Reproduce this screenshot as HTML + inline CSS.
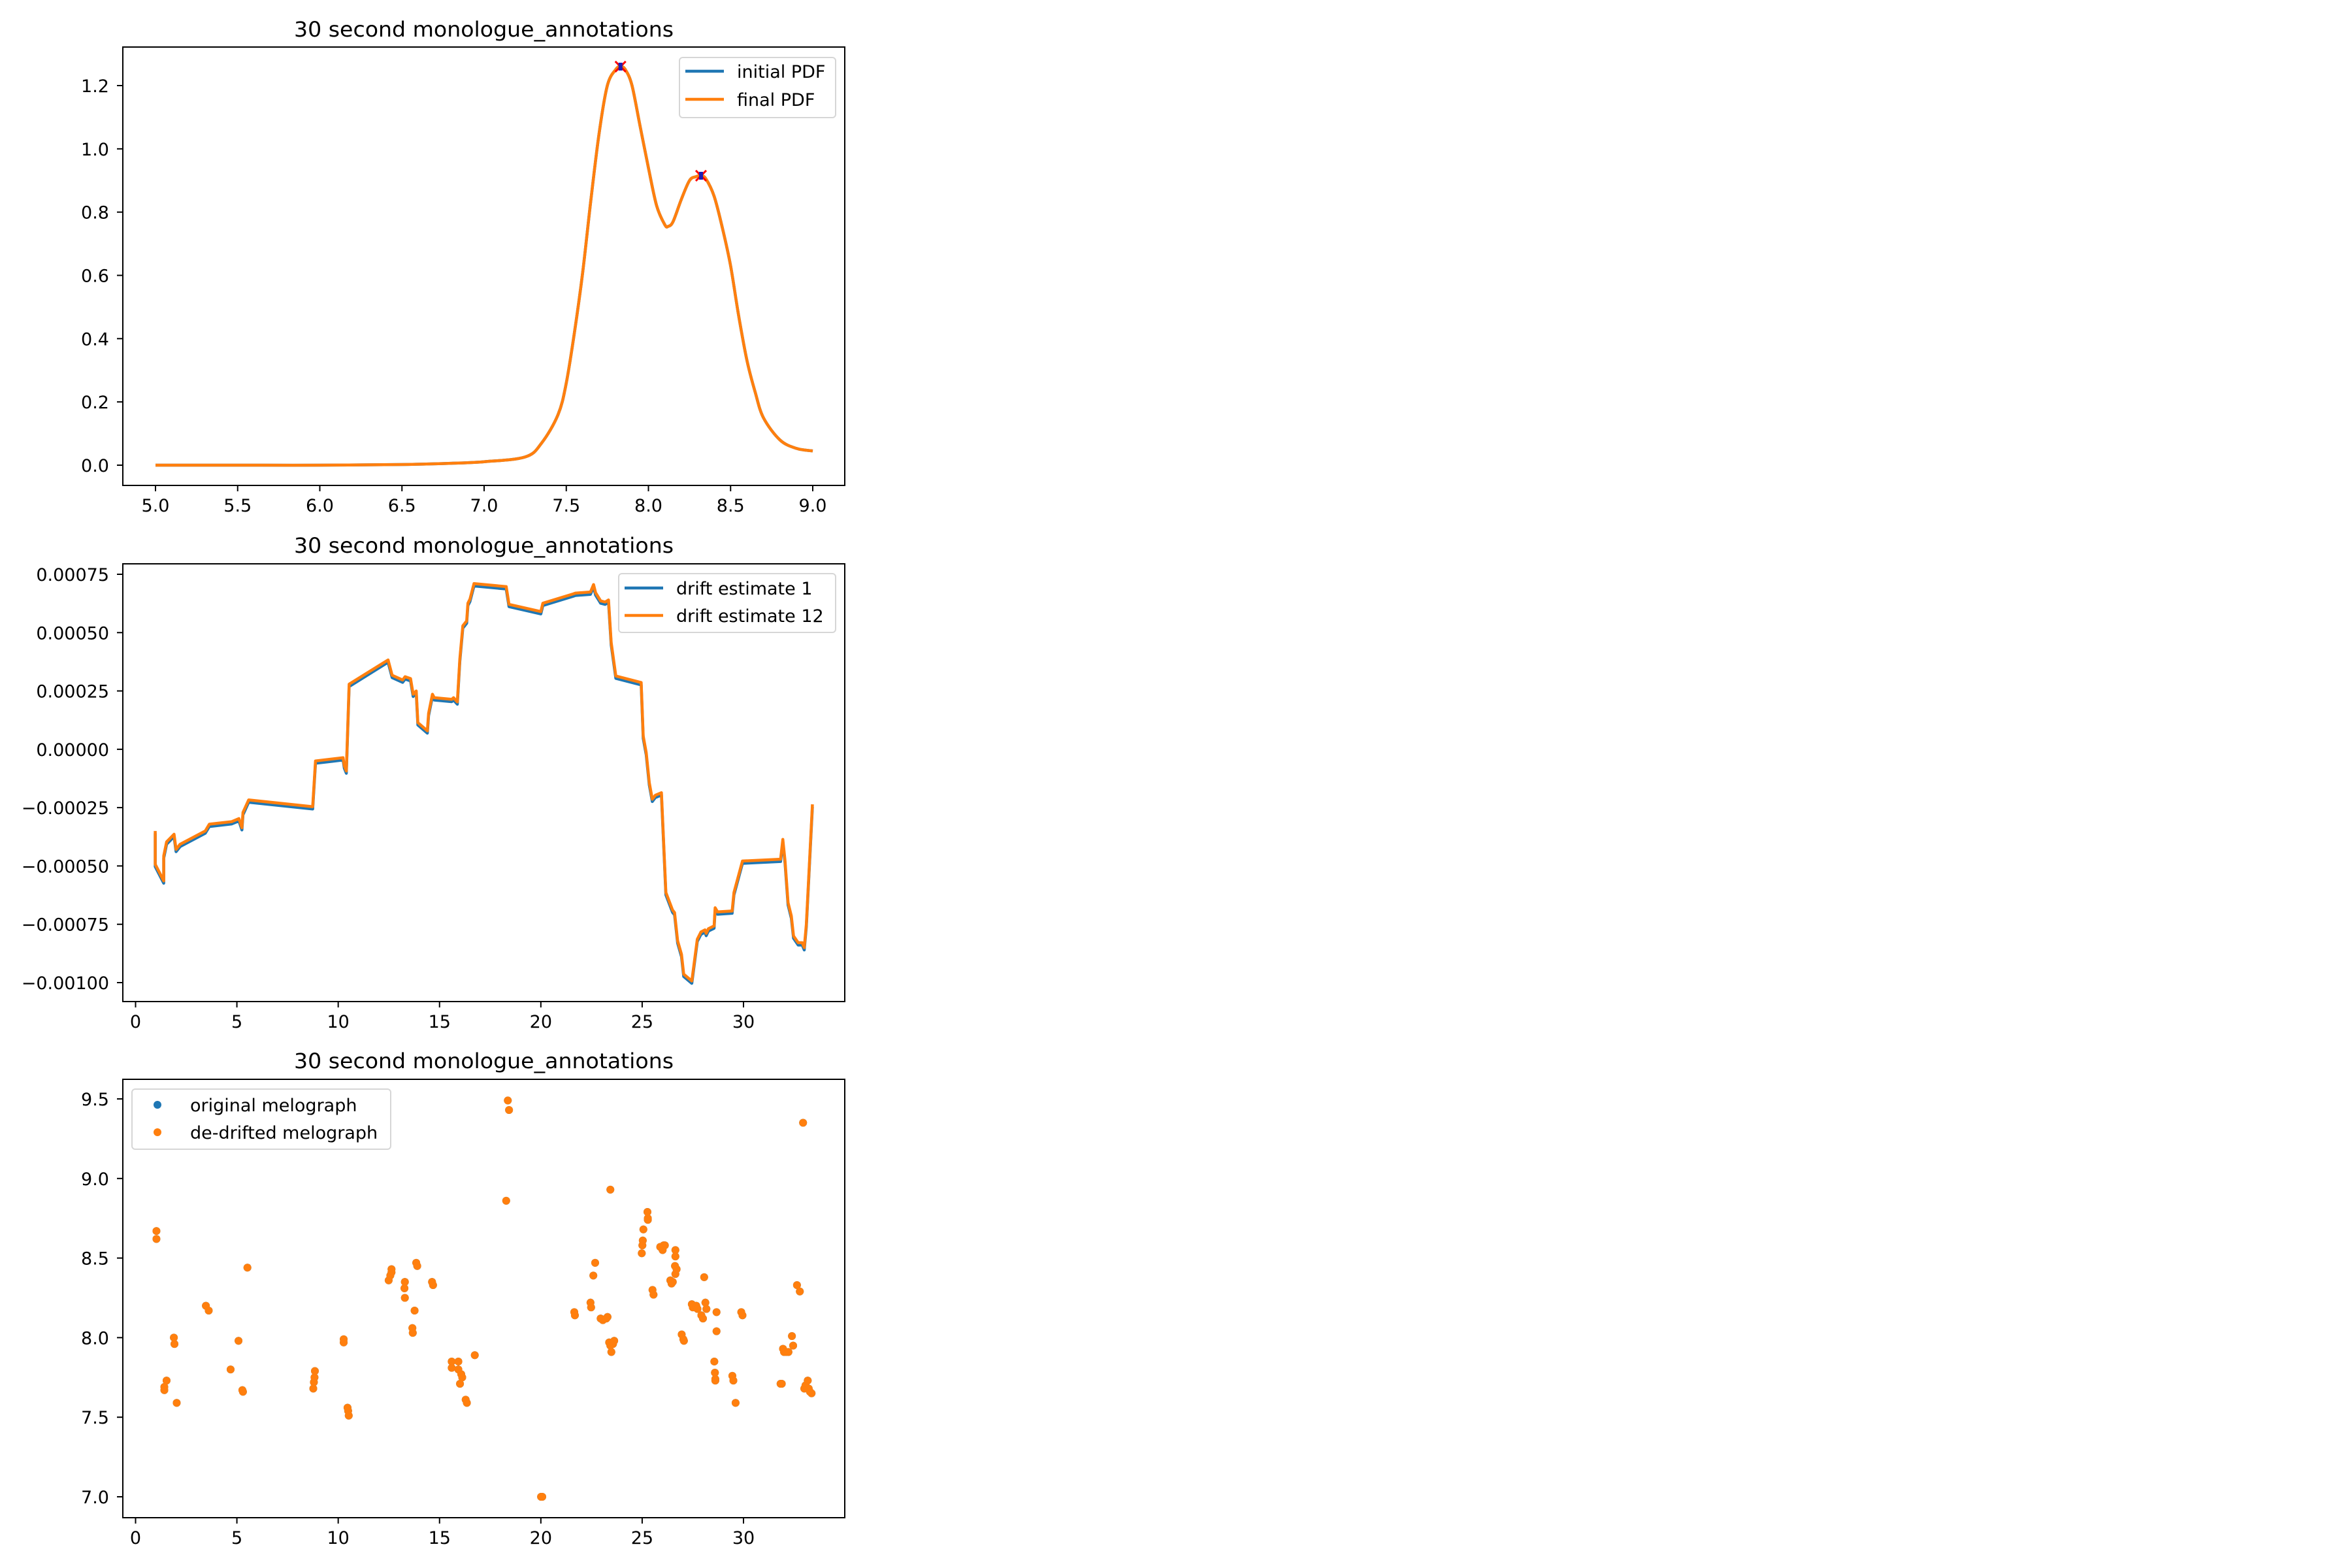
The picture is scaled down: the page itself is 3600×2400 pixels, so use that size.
<!DOCTYPE html>
<html><head><meta charset="utf-8"><style>
html,body{margin:0;padding:0;background:#fff;}
svg{display:block;font-family:"DejaVu Sans","Liberation Sans",sans-serif;}
</style></head><body>
<svg id="fig" width="3600" height="2400" viewBox="0 0 3600 2400" xmlns="http://www.w3.org/2000/svg">
<rect width="3600" height="2400" fill="#fff"/>
</svg>
<script>
// ---- Panel 1: PDF ----
const pdfX = [5.0,5.5,6.0,6.5,6.8,7.0,7.25,7.35,7.45,7.5,7.55,7.6,7.65,7.7,7.75,7.8,7.83,7.86,7.9,7.95,8.0,8.05,8.1,8.12,8.15,8.2,8.25,8.29,8.32,8.35,8.4,8.45,8.5,8.55,8.6,8.65,8.7,8.8,8.9,9.0];
const pdfY = [0.0,0.0,0.0,0.002,0.006,0.011,0.026,0.07,0.16,0.26,0.42,0.61,0.84,1.05,1.2,1.25,1.26,1.25,1.2,1.07,0.94,0.82,0.76,0.755,0.77,0.84,0.9,0.912,0.915,0.905,0.85,0.75,0.63,0.47,0.33,0.23,0.15,0.08,0.053,0.045];
const peakX = [7.83,8.32];
const peakY = [1.26,0.915];
const pdfXTicks = [5.0,5.5,6.0,6.5,7.0,7.5,8.0,8.5,9.0];
const pdfYTicks = [0.0,0.2,0.4,0.6,0.8,1.0,1.2];

// ---- Panel 2: drift ----
const driftT = [0.97,0.97,1.39,1.39,1.53,1.9,2.0,2.2,3.44,3.64,4.75,5.1,5.25,5.3,5.58,8.74,8.88,10.24,10.3,10.4,10.54,12.46,12.66,13.18,13.3,13.57,13.7,13.85,13.93,14.4,14.46,14.65,14.74,15.6,15.69,15.88,16.0,16.15,16.34,16.4,16.5,16.7,18.29,18.43,20.0,20.1,21.6,21.7,22.45,22.6,22.7,22.9,22.95,23.17,23.34,23.47,23.7,24.95,25.05,25.2,25.35,25.5,25.65,25.95,26.17,26.5,26.6,26.75,26.94,27.05,27.45,27.72,27.9,28.1,28.16,28.27,28.55,28.6,28.72,29.44,29.53,29.95,31.83,31.94,32.05,32.2,32.36,32.47,32.7,32.9,33.0,33.1,33.4];
const drift12 = [-3.5,-4.93,-5.64,-4.57,-3.97,-3.64,-4.29,-4.07,-3.5,-3.21,-3.1,-2.97,-3.36,-2.71,-2.17,-2.46,-0.5,-0.36,-0.71,-0.93,2.79,3.83,3.17,2.97,3.11,3.03,2.36,2.5,1.14,0.79,1.54,2.36,2.21,2.14,2.21,2.03,3.86,5.29,5.5,6.26,6.43,7.1,6.97,6.21,5.9,6.26,6.66,6.69,6.74,7.06,6.71,6.43,6.36,6.31,6.4,4.57,3.14,2.86,0.57,-0.14,-1.43,-2.14,-1.97,-1.86,-6.14,-6.89,-7.0,-8.21,-8.79,-9.64,-9.93,-8.14,-7.83,-7.74,-7.89,-7.69,-7.57,-6.79,-6.97,-6.93,-6.14,-4.79,-4.71,-3.86,-4.79,-6.57,-7.14,-8.0,-8.29,-8.29,-8.5,-7.5,-2.36];
const drift1 = [-3.6,-5.03,-5.74,-4.67,-4.07,-3.74,-4.39,-4.17,-3.6,-3.31,-3.2,-3.07,-3.46,-2.81,-2.27,-2.56,-0.6,-0.46,-0.81,-1.03,2.69,3.73,3.07,2.87,3.01,2.93,2.26,2.4,1.04,0.69,1.44,2.26,2.11,2.04,2.11,1.93,3.76,5.19,5.4,6.16,6.33,7.0,6.87,6.11,5.8,6.16,6.56,6.59,6.64,6.96,6.61,6.33,6.26,6.21,6.3,4.47,3.04,2.76,0.47,-0.24,-1.53,-2.24,-2.07,-1.96,-6.24,-6.99,-7.1,-8.31,-8.89,-9.74,-10.03,-8.24,-7.93,-7.84,-7.99,-7.79,-7.67,-6.89,-7.07,-7.03,-6.24,-4.89,-4.81,-3.96,-4.89,-6.67,-7.24,-8.1,-8.39,-8.39,-8.6,-7.6,-2.46];
const driftYTicks = [0.00075,0.0005,0.00025,0,-0.00025,-0.0005,-0.00075,-0.001];
const driftYLabels = ["0.00075","0.00050","0.00025","0.00000","\u22120.00025","\u22120.00050","\u22120.00075","\u22120.00100"];
const timeTicks = [0,5,10,15,20,25,30];

// ---- Panel 3: melograph ----
const melT = [1.03,1.03,1.42,1.42,1.53,1.89,1.92,2.03,3.47,3.61,4.69,5.08,5.27,5.30,5.52,8.77,8.80,8.83,8.85,10.27,10.27,10.46,10.49,10.52,12.49,12.57,12.63,12.63,13.27,13.29,13.29,13.77,13.66,13.68,13.85,13.90,14.63,14.68,15.60,15.60,15.93,15.93,16.01,16.07,16.12,16.29,16.35,16.74,18.29,18.37,18.43,20.01,20.07,21.65,21.68,22.45,22.48,22.59,22.68,22.95,23.06,23.23,23.29,23.37,23.43,23.48,23.56,23.62,23.43,24.98,25.01,25.03,25.06,25.26,25.28,25.28,25.51,25.56,25.89,26.01,26.06,26.12,26.39,26.45,26.51,26.62,26.64,26.64,26.64,26.70,26.95,27.03,27.06,27.45,27.50,27.67,27.73,27.92,28.00,28.06,28.12,28.17,28.56,28.59,28.61,28.61,28.67,28.67,29.45,29.50,29.61,29.89,29.95,31.83,31.89,31.95,32.00,32.11,32.22,32.39,32.45,32.64,32.78,32.94,33.00,33.06,33.17,33.22,33.28,33.36];
const melF = [8.67,8.62,7.69,7.67,7.73,8.00,7.96,7.59,8.20,8.17,7.80,7.98,7.67,7.66,8.44,7.68,7.72,7.75,7.79,7.99,7.97,7.56,7.54,7.51,8.36,8.39,8.43,8.41,8.31,8.35,8.25,8.17,8.06,8.03,8.47,8.45,8.35,8.33,7.85,7.81,7.85,7.80,7.71,7.77,7.75,7.61,7.59,7.89,8.86,9.49,9.43,7.00,7.00,8.16,8.14,8.22,8.19,8.39,8.47,8.12,8.11,8.12,8.13,7.97,7.95,7.91,7.96,7.98,8.93,8.53,8.58,8.61,8.68,8.79,8.75,8.74,8.30,8.27,8.57,8.55,8.58,8.58,8.36,8.34,8.35,8.45,8.51,8.55,8.40,8.43,8.02,7.99,7.98,8.21,8.19,8.20,8.18,8.14,8.12,8.38,8.22,8.18,7.85,7.78,7.74,7.73,8.04,8.16,7.76,7.73,7.59,8.16,8.14,7.71,7.71,7.93,7.91,7.91,7.91,8.01,7.95,8.33,8.29,9.35,7.68,7.70,7.73,7.68,7.66,7.65];
const melYTicks = [7.0,7.5,8.0,8.5,9.0,9.5];

const NS = "http://www.w3.org/2000/svg";
const fig = document.getElementById('fig');
function mk(tag, attrs, parent) {
  const e = document.createElementNS(NS, tag);
  for (const k in attrs) e.setAttribute(k, attrs[k]);
  (parent || fig).appendChild(e);
  return e;
}
function scale(d0, d1, p0, p1) { return v => p0 + (v - d0) * (p1 - p0) / (d1 - d0); }

function axes(cfg) {
  const g = mk('g', {});
  
  
  const t = mk('text', {x: (cfg.L + cfg.R) / 2, y: cfg.titleY, 'font-size': 32, 'text-anchor': 'middle', textLength: 581, lengthAdjust: 'spacingAndGlyphs'}, g);
  t.textContent = '30 second monologue_annotations';
  
  
  cfg.xt.forEach((v, i) => {
    const x = cfg.sx(v);
    mk('line', {x1: x, x2: x, y1: cfg.B, y2: cfg.B + 9, stroke: '#000', 'stroke-width': 2}, g);
    const lb = mk('text', {x: x, y: cfg.B + 40, 'font-size': 27, 'text-anchor': 'middle'}, g);
    lb.textContent = cfg.xl[i];
    
    
  });
  cfg.yt.forEach((v, i) => {
    const y = cfg.sy(v);
    mk('line', {x1: cfg.L - 9, x2: cfg.L, y1: y, y2: y, stroke: '#000', 'stroke-width': 2}, g);
    const lb = mk('text', {x: cfg.L - 21, y: y + 10, 'font-size': 27, 'text-anchor': 'end'}, g);
    lb.textContent = cfg.yl[i];
    
    
  });
  return g;
}
function frame(cfg) {
  const r = mk('rect', {x: cfg.L, y: cfg.T, width: cfg.R - cfg.L, height: cfg.B - cfg.T, fill: 'none', stroke: '#000', 'stroke-width': 2});
  
  
}
function legendBox(x, y, w, h) {
  const r = mk('rect', {x: x, y: y, width: w, height: h, rx: 5, fill: '#fff', 'fill-opacity': 0.8, stroke: '#d6d6d6', 'stroke-width': 2});
  
  
}
function legendEntry(lx, ly, tx, label, color, kind) {
  const g = mk('g', {});
  
  
  if (kind === 'line') mk('line', {x1: lx, x2: lx + 59, y1: ly, y2: ly, stroke: color, 'stroke-width': 4.5}, g);
  else mk('circle', {cx: lx, cy: ly, r: 6, fill: color}, g);
  const t = mk('text', {x: tx, y: ly + 10, 'font-size': 27}, g);
  t.textContent = label;
}
function pathD(xs, ys, sx, sy) { return xs.map((v, i) => (i ? 'L' : 'M') + sx(v).toFixed(1) + ',' + sy(ys[i]).toFixed(1)).join(''); }
function smoothD(xs, ys, sx, sy) {
  const P = xs.map((v, i) => [sx(v), sy(ys[i])]);
  let d = 'M' + P[0][0].toFixed(1) + ',' + P[0][1].toFixed(1);
  for (let i = 0; i < P.length - 1; i++) {
    const p0 = P[Math.max(0, i - 1)], p1 = P[i], p2 = P[i + 1], p3 = P[Math.min(P.length - 1, i + 2)];
    const c1 = [p1[0] + (p2[0] - p0[0]) / 6, p1[1] + (p2[1] - p0[1]) / 6];
    const c2 = [p2[0] - (p3[0] - p1[0]) / 6, p2[1] - (p3[1] - p1[1]) / 6];
    d += 'C' + c1.map(n => n.toFixed(1)).join(',') + ' ' + c2.map(n => n.toFixed(1)).join(',') + ' ' + p2[0].toFixed(1) + ',' + p2[1].toFixed(1);
  }
  return d;
}

// Panel 1
(function () {
  const c = {name: 'pdf-panel', L: 188, R: 1293, T: 72, B: 743, titleY: 56};
  c.sx = scale(5, 9, 238, 1244); c.sy = scale(0, 1.2, 712, 131);
  c.xt = pdfXTicks; c.xl = pdfXTicks.map(v => v.toFixed(1));
  c.yt = pdfYTicks; c.yl = pdfYTicks.map(v => v.toFixed(1));
  axes(c);
  const p1 = mk('path', {d: smoothD(pdfX, pdfY, c.sx, c.sy), fill: 'none', stroke: '#1f77b4', 'stroke-width': 4.5, 'stroke-linejoin': 'round'});
  
  
  const p2 = mk('path', {d: smoothD(pdfX, pdfY, c.sx, c.sy), fill: 'none', stroke: '#ff7f0e', 'stroke-width': 4.5, 'stroke-linejoin': 'round'});
  
  
  peakX.forEach((v, i) => {
    const x = c.sx(v), y = c.sy(peakY[i]);
    const g = mk('g', {});
    
    
    mk('path', {d: `M${x-8},${y-8}L${x+8},${y+8}M${x-8},${y+8}L${x+8},${y-8}`, stroke: '#ff0000', 'stroke-width': 3}, g);
    mk('rect', {x: x - 3, y: y - 6, width: 6, height: 12, fill: '#1f1fb4'}, g);
  });
  frame(c);
  legendBox(1040, 88, 239, 92);
  legendEntry(1049, 109, 1128, 'initial PDF', '#1f77b4', 'line');
  legendEntry(1049, 152, 1128, 'final PDF', '#ff7f0e', 'line');
})();

// Panel 2
(function () {
  const c = {name: 'drift-panel', L: 188, R: 1293, T: 863, B: 1533, titleY: 846};
  c.sx = scale(0, 30, 207.5, 1138);
  c.sy = scale(0.00075, -0.001, 879, 1504);
  c.xt = timeTicks; c.xl = timeTicks.map(String);
  c.yt = driftYTicks; c.yl = driftYLabels;
  axes(c);
  const sy4 = v => c.sy(v * 1e-4);
  const p1 = mk('path', {d: pathD(driftT, drift1, c.sx, sy4), fill: 'none', stroke: '#1f77b4', 'stroke-width': 4.5, 'stroke-linejoin': 'round'});
  
  
  const p2 = mk('path', {d: pathD(driftT, drift12, c.sx, sy4), fill: 'none', stroke: '#ff7f0e', 'stroke-width': 4.5, 'stroke-linejoin': 'round'});
  
  
  frame(c);
  legendBox(947, 878, 332, 90);
  legendEntry(956, 900, 1035, 'drift estimate 1', '#1f77b4', 'line');
  legendEntry(956, 942, 1035, 'drift estimate 12', '#ff7f0e', 'line');
})();

// Panel 3
(function () {
  const c = {name: 'melograph-panel', L: 188, R: 1293, T: 1652, B: 2323, titleY: 1635};
  c.sx = scale(0, 30, 207.5, 1138); c.sy = scale(7, 9.5, 2291, 1682);
  c.xt = timeTicks; c.xl = timeTicks.map(String);
  c.yt = melYTicks; c.yl = melYTicks.map(v => v.toFixed(1));
  axes(c);
  melT.forEach((t, i) => {
    const d = mk('circle', {cx: c.sx(t), cy: c.sy(melF[i]), r: 6, fill: '#1f77b4'});
    
    
  });
  melT.forEach((t, i) => {
    const d = mk('circle', {cx: c.sx(t), cy: c.sy(melF[i]), r: 6, fill: '#ff7f0e'});
    
    
  });
  frame(c);
  legendBox(202, 1667, 396, 92);
  legendEntry(241, 1691, 291, 'original melograph', '#1f77b4', 'dot');
  legendEntry(241, 1733, 291, 'de-drifted melograph', '#ff7f0e', 'dot');
})();
</script>
</body></html>
